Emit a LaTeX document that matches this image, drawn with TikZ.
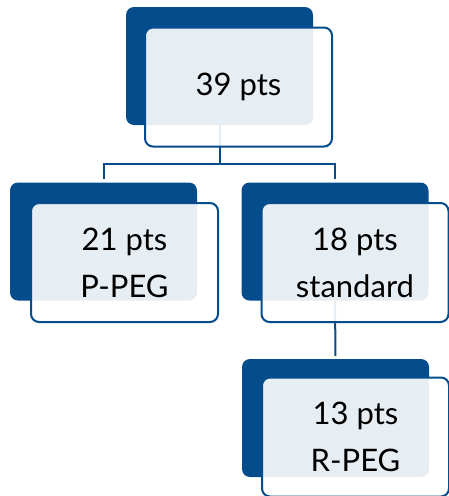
\documentclass[tikz,border=0pt]{standalone}
\usepackage{fontspec}
\setmainfont{Lato}
\usepackage{xcolor}
\usetikzlibrary{positioning, calc}
\definecolor{orgblue}{RGB}{4,76,140}
\tikzset{
  darkbox/.style={fill=orgblue, rounded corners=8pt, minimum width=187pt,
    minimum height=118pt, inner sep=0pt},
  frontbox/.style={draw=orgblue, line width=2pt, fill=white, fill opacity=0.9,
    text opacity=1, rounded corners=8pt, minimum width=187pt, minimum height=119pt,
    inner sep=0pt, align=center, font=\fontsize{31}{47}\selectfont},
  link/.style={draw=orgblue, line width=2pt}
}
\begin{document}
\begin{tikzpicture}[x=1pt, y=-1pt]
  \useasboundingbox (0,0) rectangle (448,496);

  % === back boxes ===
  \node[darkbox] (top) at (219.5,66) {};
  \node[darkbox] (left) at (103.5,241.5) {};
  \node[darkbox] (right) at (335,241.5) {};
  \node[darkbox] (bottom) at (335.5,418) {};

  % connectors
  \draw[link, shorten >=3pt] (top.south) -- ++(0,-39pt) -| (left.north);
  \draw[link, shorten >=3pt] (top.south) -- ++(0,-39pt) -| (right.north);
  \draw[link, shorten >=3pt] (right.south) -- (bottom.north);

  % === front boxes ===
  \node[frontbox] (topf) at ([shift={(19pt,-21pt)}]top.center) {39 pts};
  \node[frontbox] (leftf) at ([shift={(21pt,-21pt)}]left.center) {21 pts\\P-PEG};
  \node[frontbox] (rightf) at ([shift={(20pt,-21pt)}]right.center) {18 pts\\standard};
  \node[frontbox] (bottomf) at ([shift={(20pt,-19pt)}]bottom.center) {13 pts\\R-PEG};
\end{tikzpicture}
\end{document}
